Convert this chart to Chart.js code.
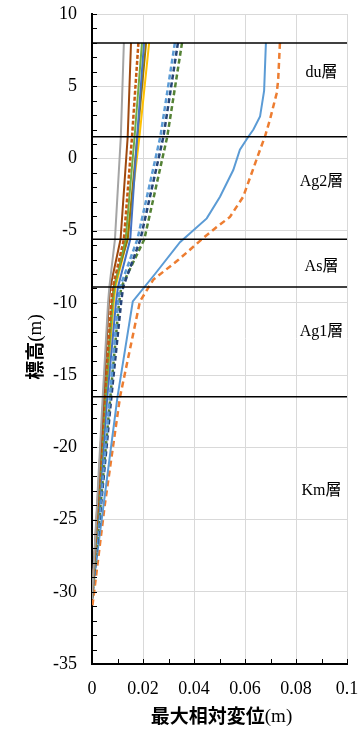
<!DOCTYPE html>
<html>
<head>
<meta charset="utf-8">
<script src="https://cdn.jsdelivr.net/npm/chart.js@4.4.1/dist/chart.umd.min.js"></script>
<style>
  body { margin: 0; background: #fff; }
</style>
</head>
<body>
<canvas id="dispChart" width="360" height="730"></canvas>
<script>
// elevation points shared by the small-displacement profiles
const elev = [8, 1.5, -5.6, -8.9, -10, -16.5, -30.5];
const dispGrey      = [0.0125, 0.0113, 0.0090, 0.0068, 0.0063, 0.0042, 0];
const dispBrown     = [0.0153, 0.0140, 0.0112, 0.0072, 0.0066, 0.0045, 0];
const dispRustDash  = [0.0182, 0.0157, 0.0125, 0.0082, 0.0076, 0.0050, 0];
const dispGreen     = [0.0196, 0.0167, 0.0132, 0.0088, 0.0081, 0.0053, 0];
const dispBlue      = [0.0204, 0.0177, 0.0150, 0.0102, 0.0094, 0.0060, 0];
const dispOlive     = [0.0212, 0.0178, 0.0140, 0.0085, 0.0079, 0.0052, 0];
const dispGold      = [0.0224, 0.0186, 0.0138, 0.0092, 0.0085, 0.0055, 0];
const dispSkyDash   = [0.0325, 0.0268, 0.0178, 0.0110, 0.0102, 0.0070, 0];
const dispNavyDash  = [0.0337, 0.0280, 0.0190, 0.0122, 0.0114, 0.0076, 0];
const dispMossDash  = [0.0353, 0.0295, 0.0205, 0.0115, 0.0106, 0.0072, 0];

// the two large profiles
const elevSky  = [8, 4.7, 2.9, 2.0, 1.5, 0.6, -0.8, -2.65, -4.15, -5.8, -8, -9.9, -16.5, -30.2];
const dispSky  = [0.0682, 0.0675, 0.0659, 0.0633, 0.0613, 0.058, 0.0554, 0.0502, 0.045, 0.0345, 0.0247, 0.016, 0.0100, 0];
const elevOrange = [8, 5.4, 4.5, 2.7, 1.5, 0.6, -2.65, -4.05, -4.75, -5.5, -7.0, -8.4, -9.9, -16.5, -24, -31.2];
const dispOrange = [0.0737, 0.0730, 0.0724, 0.0698, 0.0678, 0.0659, 0.0593, 0.0541, 0.0489, 0.0437, 0.0340, 0.024, 0.0188, 0.0110, 0.0050, 0];

// layer boundaries and names
const boundaryElev = [8, 1.5, -5.6, -8.9, -16.5];
const layerNames = ['du層', 'Ag2層', 'As層', 'Ag1層', 'Km層'];
const layerLabelElev = [5.9, -1.6, -7.5, -12, -23];
const layerLabelX = 0.09;

const xMin = 0, xMax = 0.1, xStep = 0.02;
const yMin = -35, yMax = 10, yStep = 5;

function profile(xs, ys) {
    return xs.map((v, i) => ({x: v, y: ys[i]}));
}

const serif = '"Liberation Serif", "Times New Roman", "Noto Sans CJK JP", serif';
const cjkBold = 'bold 19px "Noto Sans CJK JP", sans-serif';
const latin19 = '19px "Liberation Serif", "Times New Roman", serif';

const lineSeries = [
    {data: profile(dispGrey, elev), color: '#A5A5A5', dash: []},
    {data: profile(dispBrown, elev), color: '#9E480E', dash: []},
    {data: profile(dispRustDash, elev), color: '#C55A11', dash: [4, 2]},
    {data: profile(dispGreen, elev), color: '#70AD47', dash: []},
    {data: profile(dispBlue, elev), color: '#4472C4', dash: []},
    {data: profile(dispOlive, elev), color: '#997300', dash: []},
    {data: profile(dispGold, elev), color: '#FFC000', dash: []},
    {data: profile(dispSkyDash, elev), color: '#5B9BD5', dash: [5, 3]},
    {data: profile(dispNavyDash, elev), color: '#264478', dash: [5, 3]},
    {data: profile(dispMossDash, elev), color: '#548235', dash: [5, 3]},
    {data: profile(dispSky, elevSky), color: '#5B9BD5', dash: []},
    {data: profile(dispOrange, elevOrange), color: '#ED7D31', dash: [6, 4]},
];

const boundarySets = boundaryElev.map(e => ({
    data: [{x: xMin, y: e}, {x: xMax, y: e}],
    borderColor: '#000',
    borderWidth: 1.5,
    showLine: true,
    pointRadius: 0,
}));

const profileSets = lineSeries.map(s => ({
    data: s.data,
    borderColor: s.color,
    borderWidth: s.dash.length ? 2.5 : 2,
    borderDash: s.dash,
    showLine: true,
    pointRadius: 0,
    tension: 0,
}));

// writes "漢字(m)" with bold CJK and a plain serif unit, centred on (cx, cy)
function mixedTitle(ctx, cjk, unit, cx, cy) {
    ctx.font = cjkBold;
    const w1 = ctx.measureText(cjk).width;
    ctx.font = latin19;
    const w2 = ctx.measureText(unit).width;
    let x0 = cx - (w1 + w2) / 2;
    ctx.textAlign = 'left';
    ctx.textBaseline = 'middle';
    ctx.font = cjkBold;
    ctx.fillText(cjk, x0, cy);
    ctx.font = latin19;
    ctx.fillText(unit, x0 + w1, cy + 1);
}

// inner tick marks, layer names and axis titles
const extras = {
    id: 'extras',
    afterDraw(chart) {
        const {ctx, scales: {x, y}} = chart;
        ctx.save();
        ctx.strokeStyle = '#000';
        ctx.lineWidth = 1;
        for (let v = yMin; v <= yMax; v++) {
            const py = Math.round(y.getPixelForValue(v)) + 0.5;
            ctx.beginPath();
            ctx.moveTo(x.left, py);
            ctx.lineTo(x.left + 5, py);
            ctx.stroke();
        }
        for (let i = 0; i <= 10; i++) {
            const px = Math.round(x.getPixelForValue(i * 0.01)) + 0.5;
            ctx.beginPath();
            ctx.moveTo(px, y.bottom);
            ctx.lineTo(px, y.bottom - 5);
            ctx.stroke();
        }
        ctx.fillStyle = '#000';
        ctx.font = '16px ' + serif;
        ctx.textAlign = 'center';
        ctx.textBaseline = 'middle';
        layerNames.forEach((name, i) => {
            ctx.fillText(name, x.getPixelForValue(layerLabelX), y.getPixelForValue(layerLabelElev[i]));
        });

        mixedTitle(ctx, '最大相対変位', '(m)', (x.left + x.right) / 2 + 2, 716);
        ctx.save();
        ctx.translate(35, (y.top + y.bottom) / 2 + 8);
        ctx.rotate(-Math.PI / 2);
        mixedTitle(ctx, '標高', '(m)', 0, 0);
        ctx.restore();
        ctx.restore();
    }
};

const ctx = document.getElementById('dispChart').getContext('2d');
new Chart(ctx, {
    type: 'scatter',
    data: {datasets: [...boundarySets, ...profileSets]},
    options: {
        responsive: false,
        animation: false,
        layout: {padding: 0},
        plugins: {legend: {display: false}, tooltip: {enabled: false}},
        scales: {
            x: {
                type: 'linear',
                min: xMin,
                max: xMax,
                afterFit: s => {
                    s.height = 66;
                    s.paddingLeft = 0;
                    s.paddingRight = 13;
                },
                ticks: {
                    stepSize: xStep,
                    padding: 14,
                    color: '#000',
                    font: {family: serif, size: 18},
                    callback: v => String(+v.toFixed(2)),
                },
                grid: {color: '#D9D9D9', drawTicks: false},
                border: {color: '#000', width: 2},
            },
            y: {
                type: 'linear',
                min: yMin,
                max: yMax,
                afterFit: s => {
                    s.width = 92;
                    s.paddingTop = 14;
                    s.paddingBottom = 0;
                },
                ticks: {
                    stepSize: yStep,
                    padding: 15,
                    color: '#000',
                    font: {family: serif, size: 18},
                },
                grid: {color: '#D9D9D9', drawTicks: false},
                border: {color: '#000', width: 2},
            },
        },
    },
    plugins: [extras],
});
</script>
</body>
</html>
